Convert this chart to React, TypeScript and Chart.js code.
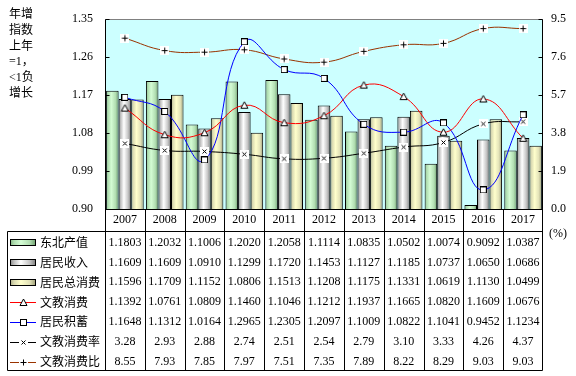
import React, { useEffect, useRef } from 'react';
import { Chart, registerables } from 'chart.js';

Chart.register(...registerables);

// ---------- data ----------
const years = ['2007', '2008', '2009', '2010', '2011', '2012', '2013', '2014', '2015', '2016', '2017'];
const dongbeiOutput = [1.1803, 1.2032, 1.1006, 1.2020, 1.2058, 1.1114, 1.0835, 1.0502, 1.0074, 0.9092, 1.0387];
const residentIncome = [1.1609, 1.1609, 1.0910, 1.1299, 1.1720, 1.1453, 1.1127, 1.1185, 1.0737, 1.0650, 1.0686];
const residentConsumption = [1.1596, 1.1709, 1.1152, 1.0806, 1.1513, 1.1208, 1.1175, 1.1331, 1.0619, 1.1130, 1.0499];
const eduConsumption = [1.1392, 1.0761, 1.0809, 1.1460, 1.1046, 1.1212, 1.1937, 1.1665, 1.0820, 1.1609, 1.0676];
const residentSavings = [1.1648, 1.1312, 1.0164, 1.2965, 1.2305, 1.2097, 1.1009, 1.0822, 1.1041, 0.9452, 1.1234];
const eduRate = [3.28, 2.93, 2.88, 2.74, 2.51, 2.54, 2.79, 3.10, 3.33, 4.26, 4.37];
const eduRatio = [8.55, 7.93, 7.85, 7.97, 7.51, 7.35, 7.89, 8.22, 8.29, 9.03, 9.03];
const leftTicks = [0.90, 0.99, 1.08, 1.17, 1.26, 1.35];
const rightTicks = [0.0, 1.9, 3.8, 5.7, 7.6, 9.5];
const seriesNames = ['东北产值', '居民收入', '居民总消费', '文教消费', '居民积蓄', '文教消费率', '文教消费比'];
const axisTitleLines = ['年增', '指数', '上年', '=1，', '<1负', '增长'];
const unitLabel = '(%)';

// ---------- styles ----------
const CAT_PCT = 0.945;
const SERIF = '"Liberation Serif", "Times New Roman", "Noto Sans CJK SC", serif';
const CJK = '"Noto Sans CJK SC", sans-serif';
const barStops: [number, string][][] = [
  [[0, '#7fb07f'], [0.15, '#aedcae'], [0.42, '#d4fcd4'], [0.75, '#b2deb2'], [1, '#6c9c6c']],
  [[0, '#868686'], [0.15, '#bcbcbc'], [0.42, '#ffffff'], [0.75, '#c6c6c6'], [1, '#7a7a7a']],
  [[0, '#a8a884'], [0.15, '#d8d8b0'], [0.42, '#ffffcc'], [0.75, '#e2e2b8'], [1, '#9a9a74']],
];
const lineColors = ['#ff0000', '#0000ff', '#000000', '#993300'];

function makeMarker(kind: string): HTMLCanvasElement {
  const c = document.createElement('canvas');
  const s = kind === 'tri' ? 9 : kind === 'sq' ? 7 : 9;
  c.width = s; c.height = s;
  const g = c.getContext('2d')!;
  g.lineWidth = 1;
  g.strokeStyle = '#000';
  g.fillStyle = '#fff';
  if (kind === 'tri') {
    g.beginPath();
    g.moveTo(4.5, 1);
    g.lineTo(8, 7.5);
    g.lineTo(1, 7.5);
    g.closePath();
    g.fill(); g.stroke();
  } else if (kind === 'sq') {
    g.fillRect(0, 0, 7, 7);
    g.strokeRect(0.5, 0.5, 6, 6);
  } else if (kind === 'x') {
    g.fillRect(0, 0, 9, 9);
    g.beginPath();
    g.moveTo(2.5, 2.5); g.lineTo(6.5, 6.5);
    g.moveTo(6.5, 2.5); g.lineTo(2.5, 6.5);
    g.stroke();
  } else {
    g.fillRect(0, 0, 9, 9);
    g.beginPath();
    g.moveTo(4.5, 1.5); g.lineTo(4.5, 7.5);
    g.moveTo(1.5, 4.5); g.lineTo(7.5, 4.5);
    g.stroke();
  }
  return c;
}

function barBg(d: number) {
  return (ctx: any) => {
    const chart = ctx.chart;
    const xs = chart.scales && chart.scales.x;
    const stops = barStops[d];
    if (ctx.type !== 'data' || !xs || !xs.width) return stops[2][1];
    const cw = xs.width / years.length;
    const groupW = cw * CAT_PCT;
    const chunk = groupW / 3;
    const left = xs.getPixelForValue(ctx.dataIndex) - groupW / 2 + chunk * d;
    const g = chart.ctx.createLinearGradient(left, 0, left + chunk, 0);
    stops.forEach(([o, c]) => g.addColorStop(o, c));
    return g;
  };
}

export default function App() {
  const ref = useRef<HTMLCanvasElement>(null);

  useEffect(() => {
    const canvas = ref.current!;
    const markers = [makeMarker('tri'), makeMarker('sq'), makeMarker('x'), makeMarker('plus')];

    const tablePlugin = {
      id: 'tablePlugin',
      beforeDraw(chart: any) {
        const { ctx, chartArea: a } = chart;
        ctx.save();
        ctx.fillStyle = '#ffffff';
        ctx.fillRect(0, 0, chart.width, chart.height);
        ctx.fillStyle = '#ccffff';
        ctx.fillRect(a.left, a.top, a.right - a.left, a.bottom - a.top);
        ctx.restore();
      },
      afterDraw(chart: any) {
        const { ctx, chartArea: a } = chart;
        const xs = chart.scales.x;
        const yl = chart.scales.y;
        const yr = chart.scales.y1;
        const n = years.length;
        const cw = xs.width / n;
        const L = Math.round(a.left) + 0.5;
        const R = Math.round(a.right) - 0.5;
        const T = Math.round(a.top) + 0.5;
        const B = Math.round(a.bottom) + 0.5;
        const headerBottom = 231.5;
        const tableBottom = 370.5;
        const tableLeft = 7.5;
        const rowH = 19.85;
        ctx.save();
        ctx.lineWidth = 1;
        // plot frame
        ctx.strokeStyle = '#808080';
        ctx.beginPath(); ctx.moveTo(L, T); ctx.lineTo(R, T); ctx.stroke();
        ctx.strokeStyle = '#000';
        ctx.beginPath();
        ctx.moveTo(L, T); ctx.lineTo(L, tableBottom);
        ctx.moveTo(R, T); ctx.lineTo(R, tableBottom);
        ctx.moveTo(L, B); ctx.lineTo(R, B);
        // inward tick marks
        leftTicks.forEach((v) => {
          const y = Math.round(yl.getPixelForValue(v)) + 0.5;
          ctx.moveTo(L, y); ctx.lineTo(L + 4, y);
        });
        rightTicks.forEach((v) => {
          const y = Math.round(yr.getPixelForValue(v)) + 0.5;
          ctx.moveTo(R - 4, y); ctx.lineTo(R, y);
        });
        // table grid
        for (let i = 1; i < n; i++) {
          const x = Math.round(a.left + cw * i) + 0.5;
          ctx.moveTo(x, B); ctx.lineTo(x, tableBottom);
        }
        ctx.moveTo(tableLeft, headerBottom); ctx.lineTo(R, headerBottom);
        ctx.moveTo(tableLeft, tableBottom); ctx.lineTo(R, tableBottom);
        ctx.moveTo(tableLeft, headerBottom); ctx.lineTo(tableLeft, tableBottom);
        ctx.stroke();

        // year labels
        ctx.fillStyle = '#000';
        ctx.textAlign = 'center';
        ctx.textBaseline = 'middle';
        ctx.font = '12px ' + SERIF;
        years.forEach((yr0, i) => {
          ctx.fillText(yr0, xs.getPixelForValue(i), 220);
        });
        // values
        const rows = [dongbeiOutput, residentIncome, residentConsumption, eduConsumption, residentSavings, eduRate, eduRatio];
        rows.forEach((arr, r) => {
          const y = 242.5 + rowH * r;
          arr.forEach((v, i) => {
            ctx.fillText(v.toFixed(r < 5 ? 4 : 2), xs.getPixelForValue(i), y);
          });
        });
        // legend column
        rows.forEach((_, r) => {
          const y = 242.5 + rowH * r;
          if (r < 3) {
            const g = ctx.createLinearGradient(10, 0, 36, 0);
            barStops[r].forEach(([o, c]) => g.addColorStop(o, c));
            ctx.fillStyle = g;
            const top = Math.round(y - 3.5);
            ctx.fillRect(10, top, 26, 7);
            ctx.strokeStyle = '#000';
            ctx.strokeRect(10.5, top + 0.5, 25, 6);
          } else {
            const ly = Math.round(y) + 0.5;
            ctx.strokeStyle = lineColors[r - 3];
            ctx.beginPath(); ctx.moveTo(10, ly); ctx.lineTo(36, ly); ctx.stroke();
            const m = markers[r - 3];
            ctx.drawImage(m, Math.round(23 - m.width / 2), Math.round(ly - m.height / 2));
          }
          ctx.fillStyle = '#000';
          ctx.textAlign = 'left';
          ctx.font = '12px ' + CJK;
          ctx.fillText(seriesNames[r], 40, y);
        });
        // axis title
        ctx.font = '12px ' + SERIF;
        ctx.textAlign = 'left';
        axisTitleLines.forEach((t, i) => {
          ctx.fillText(t, 9, 15 + i * 15.7);
        });
        // unit label
        ctx.fillText(unitLabel, 549, 234);
        ctx.restore();
      },
    };

    const lineBase = {
      type: 'line' as const,
      borderWidth: 1,
      tension: 0.45,
      fill: false,
      pointRadius: 4,
      pointHoverRadius: 4,
      order: 1,
    };

    const chart = new Chart(canvas, {
      type: 'bar',
      data: {
        labels: years,
        datasets: [
          { label: seriesNames[0], data: dongbeiOutput, yAxisID: 'y', backgroundColor: barBg(0), borderColor: '#000', borderWidth: 1, borderSkipped: false, order: 2 } as any,
          { label: seriesNames[1], data: residentIncome, yAxisID: 'y', backgroundColor: barBg(1), borderColor: '#000', borderWidth: 1, borderSkipped: false, order: 2 } as any,
          { label: seriesNames[2], data: residentConsumption, yAxisID: 'y', backgroundColor: barBg(2), borderColor: '#000', borderWidth: 1, borderSkipped: false, order: 2 } as any,
          { ...lineBase, label: seriesNames[3], data: eduConsumption, yAxisID: 'y', borderColor: lineColors[0], pointStyle: markers[0] } as any,
          { ...lineBase, label: seriesNames[4], data: residentSavings, yAxisID: 'y', borderColor: lineColors[1], pointStyle: markers[1] } as any,
          { ...lineBase, label: seriesNames[5], data: eduRate, yAxisID: 'y1', borderColor: lineColors[2], pointStyle: markers[2] } as any,
          { ...lineBase, label: seriesNames[6], data: eduRatio, yAxisID: 'y1', borderColor: lineColors[3], pointStyle: markers[3] } as any,
        ],
      },
      options: {
        responsive: false,
        devicePixelRatio: 1,
        animation: false,
        layout: { padding: { top: 15, bottom: 167, left: 0, right: 0 } },
        datasets: { bar: { categoryPercentage: CAT_PCT, barPercentage: 1 } },
        plugins: { legend: { display: false }, tooltip: { enabled: false } },
        events: [],
        scales: {
          x: { display: false, offset: true },
          y: {
            position: 'left',
            min: 0.9,
            max: 1.35,
            grid: { display: false, drawTicks: false, tickLength: 0 },
            border: { display: false },
            afterBuildTicks: (s: any) => { s.ticks = leftTicks.map((value) => ({ value })); },
            afterFit: (s: any) => { s.width = 105; },
            ticks: {
              padding: 12,
              color: '#000',
              font: { family: SERIF, size: 12 },
              callback: (v: any) => Number(v).toFixed(2),
            },
          },
          y1: {
            position: 'right',
            min: 0,
            max: 9.5,
            grid: { display: false, drawTicks: false, tickLength: 0 },
            border: { display: false },
            afterBuildTicks: (s: any) => { s.ticks = rightTicks.map((value) => ({ value })); },
            afterFit: (s: any) => { s.width = 33; },
            ticks: {
              padding: 8,
              color: '#000',
              font: { family: SERIF, size: 12 },
              callback: (v: any) => Number(v).toFixed(1),
            },
          },
        },
      } as any,
      plugins: [tablePlugin],
    });
    return () => chart.destroy();
  }, []);

  return (
    <div style={{ position: 'absolute', left: 0, top: 0, width: 576, height: 376 }}>
      <canvas ref={ref} width={576} height={376} style={{ display: 'block' }} />
    </div>
  );
}
